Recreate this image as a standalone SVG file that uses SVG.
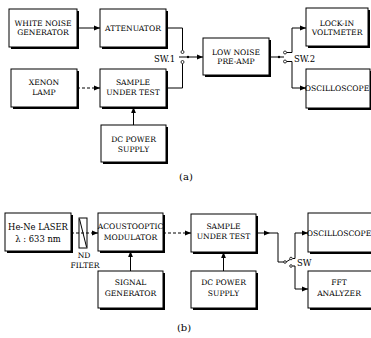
<svg xmlns="http://www.w3.org/2000/svg" width="371" height="338" viewBox="0 0 371 338">
  <style>
    .sh { fill: #000; }
    .box { fill: #fff; stroke: #000; stroke-width: 1; }
    .t { font-family: "DejaVu Serif", "Liberation Serif", serif; font-size: 7.6px; fill: #000; text-anchor: middle; }
    .lbl { font-family: "DejaVu Serif", "Liberation Serif", serif; font-size: 8.5px; fill: #000; }
    .cap { font-family: "DejaVu Serif", "Liberation Serif", serif; font-size: 10px; fill: #000; text-anchor: middle; }
    .w { fill: none; stroke: #000; stroke-width: 1; }
    .d { fill: none; stroke: #000; stroke-width: 1; stroke-dasharray: 3 2; }
    .c { fill: #fff; stroke: #000; stroke-width: 0.8; }
    .dot { fill: #000; }
  </style>
  <defs>
    <marker id="ah" viewBox="0 0 6 6" refX="6" refY="3" markerWidth="6" markerHeight="6" markerUnits="userSpaceOnUse" orient="auto">
      <path d="M0,0.6 L6,3 L0,5.4 Z" fill="#000"/>
    </marker>
  </defs>

  <!-- (a) noise measurement setup -->
  <g id="white-noise-generator">
    <rect class="sh" x="11" y="11" width="68" height="38"/>
    <rect class="box" x="9" y="9" width="68" height="38"/>
    <text class="t" x="43" y="26">WHITE NOISE</text>
    <text class="t" x="43" y="35">GENERATOR</text>
  </g>
  <g id="attenuator">
    <rect class="sh" x="102" y="11" width="66" height="38"/>
    <rect class="box" x="100" y="9" width="66" height="38"/>
    <text class="t" x="133" y="31">ATTENUATOR</text>
  </g>
  <g id="xenon-lamp">
    <rect class="sh" x="13" y="71" width="66" height="38"/>
    <rect class="box" x="11" y="69" width="66" height="38"/>
    <text class="t" x="44" y="85">XENON</text>
    <text class="t" x="44" y="95">LAMP</text>
  </g>
  <g id="sample-a">
    <rect class="sh" x="102" y="71" width="66" height="38"/>
    <rect class="box" x="100" y="69" width="66" height="38"/>
    <text class="t" x="133" y="85">SAMPLE</text>
    <text class="t" x="133" y="95">UNDER TEST</text>
  </g>
  <g id="dc-supply-a">
    <rect class="sh" x="103" y="127" width="65" height="37"/>
    <rect class="box" x="101" y="125" width="65" height="37"/>
    <text class="t" x="133.5" y="142">DC POWER</text>
    <text class="t" x="133.5" y="152">SUPPLY</text>
  </g>
  <g id="preamp">
    <rect class="sh" x="205" y="40" width="66" height="37"/>
    <rect class="box" x="203" y="38" width="66" height="37"/>
    <text class="t" x="236" y="55">LOW NOISE</text>
    <text class="t" x="236" y="64">PRE-AMP</text>
  </g>
  <g id="lock-in">
    <rect class="sh" x="308" y="10" width="62" height="38"/>
    <rect class="box" x="306" y="8" width="62" height="38"/>
    <text class="t" x="337" y="26">LOCK-IN</text>
    <text class="t" x="337" y="35">VOLTMETER</text>
  </g>
  <g id="oscilloscope-a">
    <rect class="sh" x="308" y="71" width="64" height="39"/>
    <rect class="box" x="306" y="69" width="64" height="39"/>
    <text class="t" x="337" y="91">OSCILLOSCOPE</text>
  </g>

  <!-- (b) modulated light setup -->
  <g id="laser">
    <rect class="sh" x="7" y="215" width="66" height="38"/>
    <rect class="box" x="5" y="213" width="66" height="38"/>
    <text class="t" x="38" y="229.5" style="font-size:8.4px">He-Ne LASER</text>
    <text class="t" x="38" y="241.5" style="font-size:8.4px">λ : 633 nm</text>
  </g>
  <g id="nd-filter">
    <rect class="box" x="79" y="218" width="8" height="30"/>
    <line class="w" x1="79.5" y1="219" x2="86.5" y2="247"/>
    <text class="t" x="84" y="258">ND</text>
    <text class="t" x="85" y="268">FILTER</text>
  </g>
  <g id="modulator">
    <rect class="sh" x="100" y="215" width="65" height="38"/>
    <rect class="box" x="98" y="213" width="65" height="38"/>
    <text class="t" x="130.5" y="229">ACOUSTOOPTIC</text>
    <text class="t" x="130.5" y="240">MODULATOR</text>
  </g>
  <g id="signal-generator">
    <rect class="sh" x="100" y="273" width="65" height="37"/>
    <rect class="box" x="98" y="271" width="65" height="37"/>
    <text class="t" x="130.5" y="285">SIGNAL</text>
    <text class="t" x="130.5" y="296">GENERATOR</text>
  </g>
  <g id="sample-b">
    <rect class="sh" x="193" y="216" width="65" height="38"/>
    <rect class="box" x="191" y="214" width="65" height="38"/>
    <text class="t" x="223.5" y="229">SAMPLE</text>
    <text class="t" x="223.5" y="239">UNDER TEST</text>
  </g>
  <g id="dc-supply-b">
    <rect class="sh" x="193" y="273" width="65" height="37"/>
    <rect class="box" x="191" y="271" width="65" height="37"/>
    <text class="t" x="223.5" y="285">DC POWER</text>
    <text class="t" x="223.5" y="296">SUPPLY</text>
  </g>
  <g id="oscilloscope-b">
    <rect class="sh" x="310" y="215" width="66" height="39"/>
    <rect class="box" x="308" y="213" width="66" height="39"/>
    <text class="t" x="339" y="236">OSCILLOSCOPE</text>
  </g>
  <g id="fft-analyzer">
    <rect class="sh" x="310" y="273" width="66" height="37"/>
    <rect class="box" x="308" y="271" width="66" height="37"/>
    <text class="t" x="339" y="285">FFT</text>
    <text class="t" x="339" y="296">ANALYZER</text>
  </g>

  <g id="connectors">
    <!-- (a) -->
    <line class="w" x1="77" y1="28" x2="100" y2="28" marker-end="url(#ah)"/>
    <line class="d" x1="77" y1="88" x2="100" y2="88" marker-end="url(#ah)"/>
    <line class="w" x1="133.5" y1="125" x2="133.5" y2="107" marker-end="url(#ah)"/>
    <polyline class="w" points="166,28 182.5,28 182.5,50.5"/>
    <polyline class="w" points="166,88 182.5,88 182.5,63.5"/>
    <line class="w" x1="179" y1="57" x2="188" y2="57"/>
    <line class="w" x1="188" y1="57" x2="203" y2="57" marker-end="url(#ah)"/>
    <polyline class="w" points="269,57 284,57"/>
    <polyline class="w" points="286.5,52.5 292,52.5 292,28 306,28" marker-end="url(#ah)"/>
    <polyline class="w" points="286.5,61.5 292,61.5 292,88 306,88" marker-end="url(#ah)"/>
    <!-- (b) -->
    <line class="d" x1="71" y1="233" x2="98" y2="233" marker-end="url(#ah)"/>
    <line class="d" x1="163" y1="233" x2="191" y2="233" marker-end="url(#ah)"/>
    <line class="w" x1="130.5" y1="271" x2="130.5" y2="251" marker-end="url(#ah)"/>
    <line class="w" x1="223.5" y1="271" x2="223.5" y2="252" marker-end="url(#ah)"/>
    <line class="w" x1="256" y1="233" x2="270" y2="233" marker-end="url(#ah)"/>
    <polyline class="w" points="270,233 278,233 278,262 285,262"/>
    <line class="w" x1="286" y1="262" x2="290" y2="259.5"/>
    <polyline class="w" points="292.5,258.5 295,258.5 295,233 308,233" marker-end="url(#ah)"/>
    <polyline class="w" points="292.5,266 295,266 295,289 308,289" marker-end="url(#ah)"/>
    <!-- switch contacts -->
    <circle class="c" cx="182.5" cy="52" r="1.5"/>
    <circle class="c" cx="182.5" cy="62" r="1.5"/>
    <circle class="dot" cx="188" cy="57" r="1.2"/>
    <circle class="dot" cx="279" cy="57" r="1.2"/>
    <circle class="c" cx="285" cy="52.5" r="1.5"/>
    <circle class="c" cx="285" cy="61.5" r="1.5"/>
    <circle class="c" cx="285" cy="262" r="1.3"/>
    <circle class="c" cx="291" cy="258.5" r="1.3"/>
    <circle class="c" cx="291" cy="266" r="1.3"/>
  </g>

  <text class="lbl" x="154" y="61.5">SW.1</text>
  <text class="lbl" x="294" y="61.5">SW.2</text>
  <text class="lbl" x="297" y="266">SW</text>
  <text class="cap" x="186" y="180">(a)</text>
  <text class="cap" x="184" y="331">(b)</text>
</svg>
